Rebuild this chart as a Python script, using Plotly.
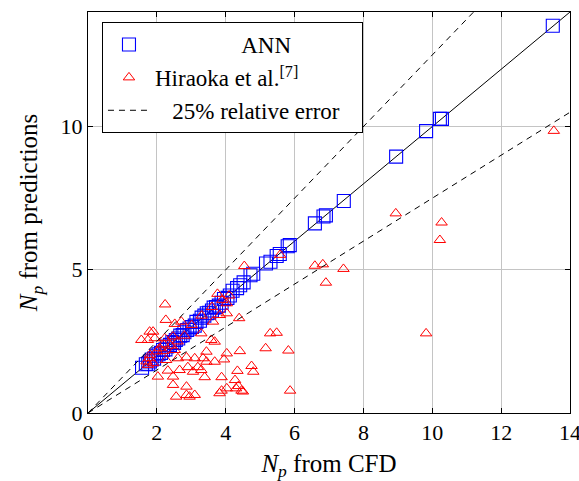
import plotly.graph_objects as go

ann_x = [13.5, 10.22, 10.28, 9.82, 8.95, 7.43, 6.91, 6.84, 6.59, 5.86, 5.8, 5.57, 5.48, 5.3, 5.17,
         4.80, 4.72, 4.52, 4.42, 4.33, 4.2, 4.12, 4.05, 3.95, 3.88, 3.8, 3.72, 3.65, 3.6, 3.52,
         3.45, 3.38, 3.3, 3.25, 3.15, 3.1, 3.02, 2.95, 2.88, 2.8, 2.75, 2.68, 2.62, 2.55, 2.5,
         2.45, 2.38, 2.3, 2.25, 2.18, 2.12, 2.05, 1.98, 1.92, 1.85, 1.8, 1.75, 1.68, 1.57]
ann_y = [13.52, 10.27, 10.27, 9.84, 8.95, 7.4, 6.9, 6.86, 6.62, 5.86, 5.82, 5.55, 5.48, 5.28, 5.22,
         4.86, 4.81, 4.56, 4.46, 4.36, 4.27, 4.1, 4.02, 3.98, 3.85, 3.75, 3.7, 3.68, 3.58, 3.5,
         3.48, 3.4, 3.33, 3.22, 3.18, 3.05, 3.0, 2.95, 2.9, 2.82, 2.72, 2.7, 2.6, 2.55, 2.45,
         2.48, 2.38, 2.32, 2.22, 2.2, 2.1, 2.05, 2.0, 1.9, 1.87, 1.8, 1.72, 1.7, 1.58]

hir_x = [13.53, 8.94, 10.27, 10.22, 6.59, 6.82, 7.42, 6.91, 9.82, 4.54, 5.58, 3.76, 4.03, 4.03,
         3.83, 4.39, 5.29, 5.48, 5.16, 5.82, 4.41, 4.03, 3.95, 4.75, 4.80, 4.34, 3.88, 4.27, 4.37,
         4.03, 4.46, 4.30, 3.88, 5.87, 2.24, 2.26, 2.52, 1.89, 1.55, 1.74, 1.94, 2.71, 3.63, 3.29,
         3.58, 3.68, 3.44, 3.34, 3.10, 2.86, 2.61, 2.27, 2.90, 3.19, 3.44, 3.68, 2.32, 2.66, 3.05,
         3.29, 2.03, 2.47, 3.39, 2.47, 2.86, 2.86, 2.56, 2.95, 3.10, 3.82, 4.50, 1.79, 2.23, 2.47,
         2.08, 2.18, 2.52, 1.79, 1.89, 1.74, 1.8, 2.0, 2.4, 2.6, 3.01, 3.3, 3.6, 3.9, 4.1, 2.8,
         2.2, 1.7]
hir_y = [9.85, 6.97, 6.65, 6.04, 5.14, 5.19, 5.03, 4.55, 2.78, 5.13, 5.52, 4.16, 3.83, 3.48,
         3.42, 3.31, 2.78, 2.80, 2.26, 2.18, 2.16, 2.08, 1.87, 1.64, 1.44, 1.47, 1.25, 1.15, 0.94,
         0.86, 0.78, 0.86, 0.78, 0.78, 3.79, 3.25, 3.11, 2.84, 2.55, 2.55, 2.61, 3.19, 3.19, 2.78,
         2.55, 2.49, 2.14, 1.91, 1.91, 1.94, 1.91, 1.85, 1.60, 1.60, 1.79, 1.79, 1.48, 1.50, 1.44,
         1.50, 1.27, 1.27, 1.25, 0.98, 0.92, 0.63, 0.57, 0.57, 0.63, 0.69, 0.75, 2.84, 2.61, 2.67,
         2.26, 2.16, 2.20, 1.91, 1.74, 1.68, 2.03, 2.15, 2.35, 2.5, 3.07, 3.4, 3.7, 3.95, 4.1, 2.7,
         2.4, 1.8]

ref_x = [0, 14]
upper_x = [0, 11.2]
x_ticks = [0, 2, 4, 6, 8, 10, 12, 14]
y_ticks = [0, 5, 10]

FONT = "Liberation Serif"
NB = "&nbsp;"

fig = go.Figure()
fig.add_trace(go.Scatter(x=ref_x, y=ref_x, mode="lines", line=dict(color="black", width=1),
                         showlegend=False, hoverinfo="skip"))
fig.add_trace(go.Scatter(x=ann_x, y=ann_y, mode="markers", name=NB * 15 + "ANN", legendrank=1,
                         marker=dict(symbol="square-open", size=13, color="blue",
                                     line=dict(width=1.1, color="blue"))))
fig.add_trace(go.Scatter(x=hir_x, y=hir_y, mode="markers", name="Hiraoka et al.<sup>[7]</sup>",
                         legendrank=2,
                         marker=dict(symbol="triangle-up-open", size=10, color="red",
                                     line=dict(width=1, color="red"))))
fig.add_trace(go.Scatter(x=upper_x, y=[v * 1.25 for v in upper_x], mode="lines",
                         name=NB * 3 + "25% relative error" + NB * 3, legendrank=3,
                         line=dict(color="black", width=1, dash="6px,5px")))
fig.add_trace(go.Scatter(x=ref_x, y=[v * 0.75 for v in ref_x], mode="lines", showlegend=False,
                         line=dict(color="black", width=1, dash="6px,5px"), hoverinfo="skip"))

axis_common = dict(showline=True, linecolor="black", linewidth=1, mirror="ticks",
                   ticks="inside", ticklen=5, tickcolor="black", automargin=False,
                   showgrid=True, gridcolor="#c4c4c4", gridwidth=1, zeroline=False,
                   ticklabeloverflow="allow",
                   tickfont=dict(family=FONT, size=22, color="black"))

fig.update_layout(
    width=579, height=481,
    margin=dict(l=88, r=9, t=12, b=68),
    paper_bgcolor="white", plot_bgcolor="white",
    font=dict(family=FONT, size=22, color="black"),
    xaxis=dict(range=[0, 14], tickvals=x_ticks, **axis_common,
               title=dict(text="<i>N<sub>p</sub></i> from CFD", font=dict(family=FONT, size=25))),
    yaxis=dict(range=[0, 14], tickvals=y_ticks, **axis_common,
               title=dict(text="<i>N<sub>p</sub></i> from predictions", font=dict(family=FONT, size=25))),
    legend=dict(x=0.029, y=0.975, xanchor="left", yanchor="top", bgcolor="white",
                bordercolor="black", borderwidth=1, traceorder="normal", itemwidth=42,
                font=dict(family=FONT, size=23), tracegroupgap=0),
)

fig.write_html("out.html")
